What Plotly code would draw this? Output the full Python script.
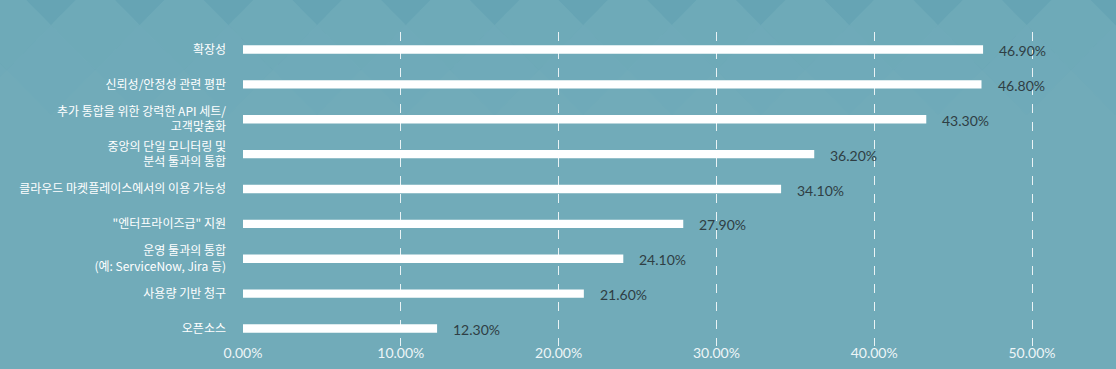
import plotly.graph_objects as go

categories = [
    "확장성",
    "신뢰성/안정성 관련 평판",
    "추가 통합을 위한 강력한 API 세트/<br>고객맞춤화",
    "중앙의 단일 모니터링 및<br>분석 툴과의 통합",
    "클라우드 마켓플레이스에서의 이용 가능성",
    "\"엔터프라이즈급\" 지원",
    "운영 툴과의 통합<br>(예: ServiceNow, Jira 등)",
    "사용량 기반 청구",
    "오픈소스",
]
values = [0.469, 0.468, 0.433, 0.362, 0.341, 0.279, 0.241, 0.216, 0.123]
tick_vals = [0, 0.1, 0.2, 0.3, 0.4, 0.5]
tick_text = ["0.00%", "10.00%", "20.00%", "30.00%", "40.00%", "50.00%"]

W, H = 1116, 369
L, R, T, B = 243, 5, 32, 23
PW, PH = W - L - R, H - T - B

def px(x):
    return (x - L) / PW

def py(y):
    return 1 - (y - T) / PH

fig = go.Figure()
fig.add_trace(go.Bar(
    x=values, y=categories, orientation="h",
    marker=dict(color="#ffffff", line=dict(width=0)),
    width=0.24, hoverinfo="skip",
))

annotations = []
for c, v in zip(categories, values):
    annotations.append(dict(
        x=v, y=c, xref="x", yref="y", text=f"{v*100:.2f}%",
        showarrow=False, xanchor="left", xshift=14, yshift=-1,
        font=dict(family="Lato, Noto Sans, sans-serif", size=14, color="#2f3e44"),
    ))

# decorative diamond pattern in the background
shapes = []
sp = 88.7
x0 = 51 - sp
k = 0
while x0 + k * sp < W + sp:
    cx = x0 + k * sp
    shapes.append(dict(
        type="path", xref="paper", yref="paper", layer="below",
        path=f"M {px(cx-sp/2)} {py(-20)} L {px(cx)} {py(-20-45)} L {px(cx+sp/2)} {py(-20)} L {px(cx)} {py(25)} Z",
        fillcolor="rgba(75,148,168,0.30)", line=dict(width=0),
    ))
    cx2 = cx + sp / 2
    shapes.append(dict(
        type="path", xref="paper", yref="paper", layer="below",
        path=f"M {px(cx2-sp/2)} {py(25)} L {px(cx2)} {py(-20)} L {px(cx2+sp/2)} {py(25)} L {px(cx2)} {py(70)} Z",
        fillcolor="rgba(100,165,182,0.18)", line=dict(width=0),
    ))
    shapes.append(dict(
        type="path", xref="paper", yref="paper", layer="below",
        path=f"M {px(cx-sp/2)} {py(70)} L {px(cx)} {py(25)} L {px(cx+sp/2)} {py(70)} L {px(cx)} {py(115)} Z",
        fillcolor="rgba(100,165,182,0.10)", line=dict(width=0),
    ))
    k += 1

fig.update_layout(
    width=W, height=H,
    margin=dict(l=L, r=R, t=T, b=B, pad=0),
    paper_bgcolor="#71abb9",
    plot_bgcolor="rgba(0,0,0,0)",
    showlegend=False,
    xaxis=dict(
        range=[0, PW / 1578], tickvals=tick_vals, ticktext=tick_text,
        showgrid=True, gridcolor="rgba(255,255,255,0.85)", gridwidth=1, griddash="dash",
        zeroline=False, showline=False, ticks="",
        tickfont=dict(family="Lato, Noto Sans, sans-serif", size=14, color="#eef5f7"),
        ticklabelstandoff=-3, fixedrange=True,
    ),
    yaxis=dict(
        categoryorder="array", categoryarray=categories[::-1],
        range=[-0.5, len(categories) - 0.5],
        showgrid=False, zeroline=False, showline=False, ticks="",
        tickfont=dict(family="Noto Sans CJK KR, sans-serif", size=12, color="#ffffff"),
        ticklabelstandoff=16, fixedrange=True,
    ),
    annotations=annotations,
    shapes=shapes,
)

fig.write_html(
    "out.html",
    config={"displayModeBar": False},
    post_script="document.body.style.margin='0';document.body.style.padding='0';document.body.style.overflow='hidden';",
)
